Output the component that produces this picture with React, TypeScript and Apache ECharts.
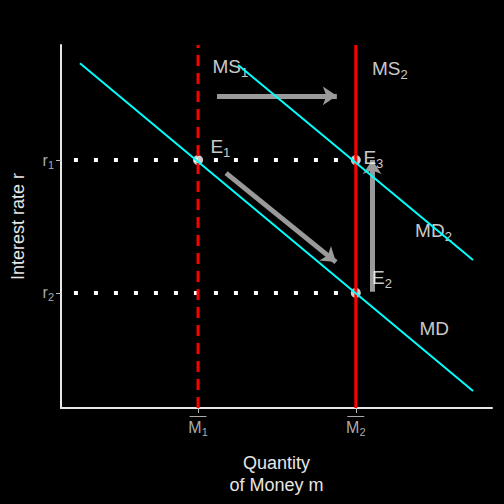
import React, { useEffect, useRef } from "react";
import * as echarts from "echarts";

const M1 = 3.18, M2 = 6.84, R1 = 6.83, R2 = 3.17;
const mdLine = [[0.44, 9.5], [9.56, 0.47]];
const md2Line = [[4.11, 9.45], [9.56, 4.08]];
const arrows = [
  [[3.62, 8.6], [6.4, 8.6]],
  [[3.83, 6.47], [6.38, 4.02]],
  [[7.22, 3.2], [7.22, 6.83]],
];
const points = [[M1, R1], [M2, R1], [M2, R2]];
const labels: [number, number, string][] = [
  [3.4, 9.4, "{t|MS}{s|1}"],
  [7.1, 9.35, "{t|MS}{s|2}"],
  [3.35, 7.2, "{t|E}{s|1}"],
  [6.9, 6.9, "{t|E}{s|3}"],
  [7.1, 3.6, "{t|E}{s|2}"],
  [8.1, 4.9, "{t|MD}{s|2}"],
  [8.2, 2.2, "{t|MD}"],
];
const xTickVals = [M1, M2];
const xTickSubs = ["1", "2"];
const yTickVals = [R2, R1];
const yTickSubs = ["2", "1"];

const txt = { t: { fontSize: 19, color: "#fff" }, s: { fontSize: 13, color: "#fff", padding: [12, 0, 0, 0] } };

export default function App() {
  const ref = useRef<HTMLDivElement>(null);
  useEffect(() => {
    document.body.style.margin = "0";
    document.body.style.background = "#000";
    const chart = echarts.init(ref.current!, null, { renderer: "svg" });
    chart.setOption({
      animation: false,
      backgroundColor: "#000",
      textStyle: { fontFamily: "Liberation Sans, Arial" },
      grid: { left: 61, right: 12, top: 45, bottom: 96 },
      xAxis: {
        type: "value", min: 0, max: 10, splitLine: { show: false },
        axisLine: { lineStyle: { color: "#e6e6e6", width: 2 } },
        axisTick: { customValues: xTickVals, length: 5, lineStyle: { color: "#bbb" } },
        axisLabel: {
          customValues: xTickVals, margin: 8, color: "#aaa", fontSize: 15,
          formatter: (v: number) => `{bar|}\n{m|M}{s|${xTickSubs[xTickVals.indexOf(v)]}}`,
          rich: {
            bar: { width: 17, height: 1, backgroundColor: "#aaa" },
            m: { fontSize: 16, color: "#aaa" },
            s: { fontSize: 11, color: "#aaa", padding: [9, 0, 0, 0] },
          },
        },
        name: "Quantity\nof Money m", nameLocation: "middle", nameGap: 44,
        nameTextStyle: { color: "#e6e6e6", fontSize: 18, lineHeight: 22 },
      },
      yAxis: {
        type: "value", min: 0, max: 10, splitLine: { show: false },
        axisLine: { lineStyle: { color: "#e6e6e6", width: 2 } },
        axisTick: { customValues: yTickVals, length: 5, lineStyle: { color: "#bbb" } },
        axisLabel: {
          customValues: yTickVals, margin: 7, color: "#aaa", fontSize: 15,
          formatter: (v: number) => `{m|r}{s|${yTickSubs[yTickVals.indexOf(v)]}}`,
          rich: {
            m: { fontSize: 16, color: "#aaa" },
            s: { fontSize: 11, color: "#aaa", padding: [9, 0, 0, 0] },
          },
        },
        name: "Interest rate r", nameLocation: "middle", nameGap: 34,
        nameTextStyle: { color: "#e6e6e6", fontSize: 18 },
      },
      series: [
        { type: "line", data: [[0.3, R1], [M2, R1]], showSymbol: false, lineStyle: { color: "#fff", width: 4, type: [4, 16] } },
        { type: "line", data: [[0.3, R2], [M2, R2]], showSymbol: false, lineStyle: { color: "#fff", width: 4, type: [4, 16] } },
        { type: "line", data: [[M1, 0], [M1, 10]], showSymbol: false, lineStyle: { color: "#ff0000", width: 3, type: [11, 7] } },
        { type: "line", data: [[M2, 0], [M2, 10]], showSymbol: false, lineStyle: { color: "#ff0000", width: 3 } },
        { type: "line", data: mdLine, showSymbol: false, lineStyle: { color: "#00ffff", width: 2 } },
        { type: "line", data: md2Line, showSymbol: false, lineStyle: { color: "#00ffff", width: 2 } },
        {
          type: "lines", coordinateSystem: "cartesian2d", symbol: ["none", "arrow"], symbolSize: 14,
          lineStyle: { color: "#9a9a9a", width: 5, opacity: 1 },
          data: arrows.map((c) => ({ coords: c })),
        },
        { type: "scatter", data: points, symbolSize: 10, itemStyle: { color: "#fff" } },
        {
          type: "scatter", symbolSize: 0,
          data: labels.map(([x, y, t]) => ({ value: [x, y], label: { formatter: t } })),
          label: { show: true, position: "right", color: "#fff", rich: txt },
        },
      ],
    });
    return () => chart.dispose();
  }, []);
  return <div ref={ref} style={{ width: 504, height: 504 }} />;
}
